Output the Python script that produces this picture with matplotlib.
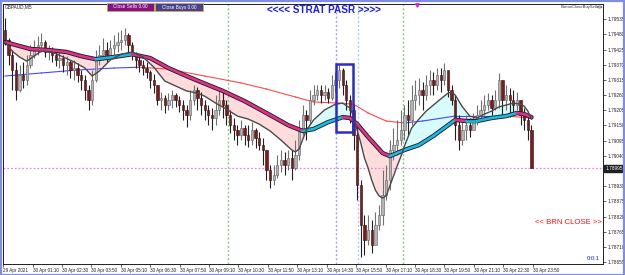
import matplotlib
matplotlib.use('Agg')
import matplotlib.pyplot as plt
import numpy as np
from matplotlib.patches import Rectangle

# ---------------- data ----------------
open_first = 1.79495
close = [1.79459,1.79405,1.79351,1.79278,1.79332,1.79314,1.79369,1.79405,1.79430,1.79441,
         1.79452,1.79416,1.79423,1.79405,1.79387,1.79394,1.79369,1.79380,1.79351,1.79358,
         1.79332,1.79314,1.79278,1.79242,1.79314,1.79387,1.79405,1.79423,1.79405,1.79430,
         1.79441,1.79452,1.79459,1.79477,1.79441,1.79405,1.79387,1.79369,1.79358,1.79343,
         1.79314,1.79296,1.79242,1.79249,1.79224,1.79242,1.79260,1.79242,1.79224,1.79206,
         1.79188,1.79242,1.79278,1.79249,1.79224,1.79206,1.79188,1.79177,1.79206,1.79242,
         1.79224,1.79188,1.79151,1.79133,1.79115,1.79141,1.79115,1.79097,1.79133,1.79104,
         1.79079,1.79061,1.78989,1.78952,1.78970,1.79007,1.79025,1.79007,1.79032,1.78996,
         1.79043,1.79133,1.79188,1.79170,1.79242,1.79260,1.79278,1.79260,1.79271,1.79249,
         1.79296,1.79314,1.79351,1.79296,1.79242,1.79206,1.79115,1.78934,1.78789,1.78735,
         1.78771,1.78717,1.78789,1.78826,1.78898,1.78952,1.79061,1.79079,1.79097,1.79133,
         1.79188,1.79170,1.79242,1.79260,1.79278,1.79260,1.79296,1.79314,1.79296,1.79332,
         1.79314,1.79351,1.79278,1.79242,1.79151,1.79097,1.79133,1.79151,1.79133,1.79170,
         1.79188,1.79206,1.79224,1.79242,1.79213,1.79242,1.79314,1.79242,1.79260,1.79242,
         1.79224,1.79242,1.79188,1.79170,1.79133,1.78995]
high = [1.79539,1.79466,1.79423,1.79380,1.79369,1.79380,1.79405,1.79441,1.79459,1.79474,
        1.79485,1.79459,1.79441,1.79434,1.79423,1.79416,1.79405,1.79401,1.79387,1.79387,
        1.79376,1.79351,1.79332,1.79296,1.79351,1.79423,1.79441,1.79466,1.79452,1.79459,
        1.79477,1.79488,1.79495,1.79503,1.79485,1.79452,1.79416,1.79405,1.79387,1.79380,
        1.79351,1.79336,1.79296,1.79271,1.79260,1.79267,1.79278,1.79267,1.79256,1.79242,
        1.79224,1.79278,1.79296,1.79289,1.79271,1.79242,1.79224,1.79213,1.79260,1.79278,
        1.79271,1.79242,1.79206,1.79177,1.79151,1.79170,1.79151,1.79151,1.79162,1.79141,
        1.79126,1.79104,1.79061,1.79007,1.79007,1.79043,1.79061,1.79054,1.79061,1.79061,
        1.79097,1.79170,1.79224,1.79206,1.79278,1.79296,1.79296,1.79296,1.79296,1.79285,
        1.79332,1.79343,1.79369,1.79358,1.79314,1.79260,1.79224,1.79151,1.78952,1.78826,
        1.78826,1.78808,1.78837,1.78862,1.78989,1.79007,1.79097,1.79141,1.79170,1.79206,
        1.79224,1.79242,1.79296,1.79314,1.79322,1.79307,1.79332,1.79351,1.79343,1.79358,
        1.79358,1.79376,1.79332,1.79296,1.79260,1.79188,1.79170,1.79188,1.79177,1.79195,
        1.79224,1.79242,1.79260,1.79267,1.79260,1.79278,1.79340,1.79314,1.79296,1.79285,
        1.79278,1.79271,1.79242,1.79213,1.79188,1.79151]
low = [1.79441,1.79369,1.79278,1.79242,1.79271,1.79285,1.79296,1.79358,1.79394,1.79405,
       1.79416,1.79398,1.79387,1.79380,1.79365,1.79358,1.79343,1.79332,1.79322,1.79314,
       1.79307,1.79278,1.79242,1.79206,1.79224,1.79307,1.79369,1.79387,1.79380,1.79394,
       1.79405,1.79416,1.79423,1.79441,1.79416,1.79387,1.79358,1.79343,1.79332,1.79322,
       1.79285,1.79267,1.79224,1.79206,1.79195,1.79206,1.79213,1.79217,1.79199,1.79170,
       1.79144,1.79170,1.79224,1.79206,1.79188,1.79170,1.79151,1.79133,1.79151,1.79188,
       1.79177,1.79151,1.79123,1.79097,1.79079,1.79097,1.79079,1.79072,1.79079,1.79068,
       1.79061,1.79007,1.78952,1.78923,1.78934,1.78960,1.78981,1.78970,1.78989,1.78952,
       1.78989,1.79025,1.79115,1.79097,1.79151,1.79224,1.79242,1.79231,1.79242,1.79231,
       1.79242,1.79271,1.79285,1.79260,1.79206,1.79159,1.79061,1.78880,1.78674,1.78681,
       1.78717,1.78688,1.78735,1.78771,1.78789,1.78880,1.78916,1.79025,1.79043,1.79079,
       1.79097,1.79115,1.79151,1.79206,1.79224,1.79206,1.79242,1.79260,1.79260,1.79278,
       1.79271,1.79296,1.79253,1.79224,1.79097,1.79061,1.79079,1.79097,1.79108,1.79141,
       1.79151,1.79177,1.79188,1.79206,1.79188,1.79206,1.79213,1.79188,1.79206,1.79180,
       1.79199,1.79206,1.79151,1.79133,1.79097,1.78995]

slow_idx = [0,10,20,30,37,45,55,65,72,80,85,92,96,100,105,110,115,124,130,138,145]
slow_val = [1.79329,1.79340,1.79351,1.79358,1.79361,1.79354,1.79329,1.79304,1.79282,1.79253,
            1.79235,1.79231,1.79227,1.79195,1.79166,1.79159,1.79166,1.79184,1.79184,1.79184,1.79177]

thick_idx = [0,7,12,17,21,25,30,35,40,45,50,54,60,66,72,78,82,85,89,93,95,97,100,104,106,
             110,114,118,121,124,127,130,134,138,141,143,145]
thick_val = [1.79452,1.79427,1.79423,1.79416,1.79401,1.79390,1.79398,1.79408,1.79394,1.79358,
             1.79329,1.79307,1.79275,1.79238,1.79195,1.79151,1.79130,1.79137,1.79162,1.79180,
             1.79177,1.79155,1.79108,1.79050,1.79039,1.79061,1.79079,1.79112,1.79141,1.79170,
             1.79166,1.79166,1.79177,1.79184,1.79195,1.79191,1.79180]

fast_idx = [0,2,4,6,8,10,13,16,19,22,24,26,29,32,35,38,41,44,47,50,53,55,58,61,64,67,70,73,
            76,79,80,81,83,85,88,91,93,95,96,97,98,99,100,101,102,103,104,105,106,107,108,109,
            110,112,114,116,118,120,122,123,124,126,128,130,132,134,136,138,140,142,143,144,145]
fast_val = [1.79452,1.79419,1.79398,1.79383,1.79401,1.79419,1.79416,1.79398,1.79380,1.79358,
            1.79329,1.79347,1.79387,1.79408,1.79416,1.79398,1.79361,1.79311,1.79293,1.79275,
            1.79267,1.79256,1.79231,1.79209,1.79184,1.79173,1.79155,1.79130,1.79097,1.79061,
            1.79054,1.79065,1.79133,1.79170,1.79206,1.79227,1.79231,1.79213,1.79184,1.79133,
            1.79086,1.79032,1.78996,1.78952,1.78916,1.78895,1.78887,1.78895,1.78931,1.78967,
            1.79003,1.79036,1.79075,1.79141,1.79173,1.79202,1.79224,1.79246,1.79267,1.79271,
            1.79260,1.79217,1.79184,1.79177,1.79191,1.79202,1.79217,1.79224,1.79231,1.79227,
            1.79220,1.79202,1.79173]

price_ticks = [1.79535,1.79480,1.79425,1.79370,1.79315,1.79260,1.79205,1.79150,1.79095,
               1.79040,1.78930,1.78875,1.78820,1.78765,1.78710,1.78655]
current_price = 1.78995
time_labels = ["29 Apr 2021","30 Apr 01:10","30 Apr 02:30","30 Apr 03:50","30 Apr 05:10",
               "30 Apr 06:30","30 Apr 07:50","30 Apr 09:10","30 Apr 10:30","30 Apr 11:50",
               "30 Apr 13:10","30 Apr 14:30","30 Apr 15:50","30 Apr 17:10","30 Apr 18:30",
               "30 Apr 19:50","30 Apr 21:10","30 Apr 22:30","30 Apr 23:50"]
vline_idx = [61.4, 91.2, 97.2, 109.6]
vline_col = ['#86c886', '#a0a0ff', '#a4ccff', '#86c886']
box_idx = (91.2, 95.9)
box_price = (1.79125, 1.79371)

# ---------------- figure ----------------
W, H = 625, 275
fig = plt.figure(figsize=(W/100, H/100), dpi=100)
fig.patch.set_facecolor('white')
ax = fig.add_axes([3/W, 11/H, 600/W, 260/H])
ax.set_xlim(-0.55, 164.7)
ax.set_ylim(1.78648, 1.79590)

n = len(close)
opens = [open_first] + close[:-1]

# fill between fast MA and thick MA
g = np.linspace(0, n - 1, 2000)
fv = np.interp(g, fast_idx, fast_val)
tv = np.interp(g, thick_idx, thick_val)
ax.fill_between(g, fv, tv, where=fv < tv, color='#ffdcdc', interpolate=True, zorder=1, lw=0)
ax.fill_between(g, fv, tv, where=fv >= tv, color='#d8fbfb', interpolate=True, zorder=1, lw=0)

# slow MA, coloured by slope
for j in range(len(slow_idx) - 1):
    c = '#4848ff' if slow_val[j + 1] >= slow_val[j] else '#ff4a4a'
    ax.plot(slow_idx[j:j + 2], slow_val[j:j + 2], color=c, lw=0.8, zorder=2)

# vertical dotted lines
for xv, cv in zip(vline_idx, vline_col):
    ax.axvline(xv, color=cv, ls=(0, (1.5, 1.5)), lw=1.0, zorder=1.5)

# current price line
ax.axhline(current_price, color='#e08ce0', ls=(0, (1.5, 1.5)), lw=0.9, zorder=1.5)

# candles
for i in range(n):
    o, c, h, l = opens[i], close[i], high[i], low[i]
    bull = c >= o
    ax.vlines(i, l, h, color='#202020' if not bull else '#707070', lw=0.8, zorder=3)
    bot = min(o, c)
    ht = max(abs(c - o), 0.00002)
    ax.add_patch(Rectangle((i - 0.32, bot), 0.64, ht,
                           facecolor='#b4b4b4' if bull else '#8c1414',
                           edgecolor='#606060' if bull else '#1a1a1a',
                           lw=0.4, zorder=3.5))

# thick MA with outline, coloured by slope
ax.plot(thick_idx, thick_val, color='#202020', lw=3.2, zorder=4, solid_capstyle='round')
for j in range(len(thick_idx) - 1):
    c = '#1bb8e6' if thick_val[j + 1] >= thick_val[j] else '#e0308c'
    ax.plot(thick_idx[j:j + 2], thick_val[j:j + 2], color=c, lw=1.9, zorder=4.5,
            solid_capstyle='round')

# fast MA
ax.plot(fast_idx, fast_val, color='#4a4a4a', lw=1.0, zorder=5)

# blue box
ax.add_patch(Rectangle((box_idx[0], box_price[0]), box_idx[1] - box_idx[0],
                       box_price[1] - box_price[0], fill=False, ec='#2a2ad0', lw=1.8, zorder=6))

# axes styling
for s in ax.spines.values():
    s.set_color('#202020')
    s.set_linewidth(0.7)
ax.yaxis.tick_right()
ax.set_yticks(price_ticks)
ax.set_yticklabels([f"{p:.5f}" for p in price_ticks])
ax.tick_params(axis='y', labelsize=3.4, length=2, width=0.5, pad=1.5, colors='#202020')
xt = [-0.5 + 8.1 * k for k in range(len(time_labels))]
ax.set_xticks(xt)
ax.set_xticklabels(time_labels)
ax.tick_params(axis='x', labelsize=3.3, length=2, width=0.5, pad=1, colors='#202020')
for t in ax.get_xticklabels():
    t.set_ha('left')
for t in ax.get_xticklabels() + ax.get_yticklabels():
    t.set_family('Liberation Sans')

# current price label
ax.text(1.004, (current_price - 1.78648) / (1.79590 - 1.78648), f"{current_price:.5f}",
        transform=ax.transAxes, fontsize=3.4, color='white', va='center', ha='left',
        family='Liberation Sans',
        bbox=dict(boxstyle='square,pad=0.25', fc='#202020', ec='#202020'))

def fx(x):
    return x / W
def fy(y):
    return 1 - y / H

# top-left symbol text
fig.text(fx(5), fy(7), "GBPAUD,M5", fontsize=3.4, ha='left', va='center',
         family='Liberation Sans', color='#202020')

# buttons
for (x0, x1, fc, lab) in [(106.7, 154, '#86108a', 'Close Sells 0.00'),
                          (155, 202.7, '#4a3f90', 'Close Buys 0.00')]:
    fig.patches.append(Rectangle((fx(x0), fy(10.7)), fx(x1 - x0), (10.7 - 3.3) / H,
                                 transform=fig.transFigure, fc=fc, ec='#c8b040', lw=0.6))
    fig.text(fx((x0 + x1) / 2), fy(7), lab, fontsize=3.4, color='white', ha='center',
             va='center', family='Liberation Sans')

# title text
fig.text(fx(324), fy(10), "<<<< STRAT PASR >>>>", fontsize=7.2, fontweight='bold',
         color='#1a1aff', ha='center', va='center', family='Liberation Sans')

# button label top right
fig.text(fx(597), fy(7), "ButtonCloseBuySell", fontsize=3.0, ha='right', va='center',
         family='Liberation Sans', color='#303030')
fig.patches.append(plt.Circle((fx(599.5), fy(7)), 2.2 / W, transform=fig.transFigure,
                              fill=False, ec='#404040', lw=0.5))

# BRN close
fig.text(fx(568.5), fy(222), "<< BRN CLOSE >>", fontsize=5.6, color='#ff1010',
         ha='center', va='center', family='Liberation Sans')
fig.text(fx(600), fy(258), "0:0:1", fontsize=4.2, color='#1a1aff', ha='right',
         va='center', family='Liberation Sans')

# marker at top
ax.plot([113.5], [1.79585], marker='v', ms=2.5, color='#e020e0', clip_on=False, zorder=7)

# outer frame
fig.patches.append(Rectangle((0.5 / W, 0.5 / H), (W - 1.5) / W, (H - 1.5) / H,
                             transform=fig.transFigure, fill=False, ec='#7f8ee0', lw=1.6))

fig.savefig('out.png', dpi=100, facecolor='white')
